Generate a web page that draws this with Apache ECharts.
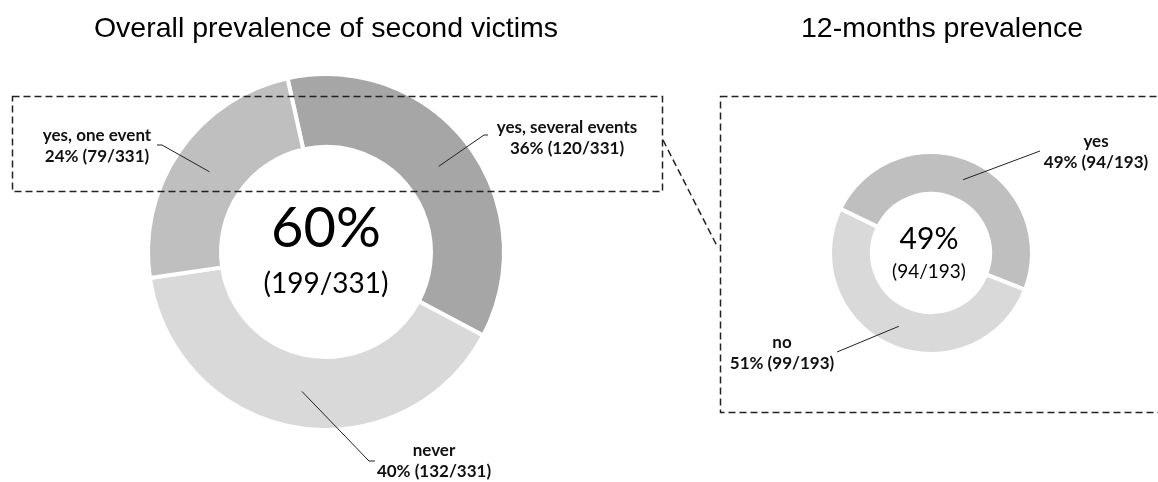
<!DOCTYPE html>
<html>
<head>
<meta charset="utf-8">
<script src="https://cdn.jsdelivr.net/npm/echarts@6/dist/echarts.min.js"></script>
<style>
  html, body { margin: 0; padding: 0; background: #fff; }
  #chart { width: 1158px; height: 482px; }
</style>
</head>
<body>
<div id="chart"></div>
<script>
// data
const overallNames = ["yes, several events", "never", "yes, one event"];
const overallCounts = [120, 132, 79];
const overallTotal = 331;
const overallCenterPct = "60%";
const overallCenterFrac = "(199/331)";

const yearNames = ["yes", "no"];
const yearCounts = [94, 99];
const yearTotal = 193;
const yearCenterPct = "49%";
const yearCenterFrac = "(94/193)";

const titles = ["Overall prevalence of second victims", "12-months prevalence"];

// layout (pixels)
const LEFT = { cx: 326, cy: 252, r0: 105, r1: 178, start: 102.5 };
const RIGHT = { cx: 931, cy: 253, r0: 59, r1: 101, start: 154 };
const LEFT_COLORS = ["#a6a6a6", "#d9d9d9", "#bfbfbf"];
const RIGHT_COLORS = ["#bfbfbf", "#d9d9d9"];

// leader line elbow / end and label centre for each slice
const LEFT_LABELS = [
  { elbow: [484, 135], end: [488, 135], text: [567, 138] },
  { elbow: [369, 461], end: [375, 461], text: [434, 461] },
  { elbow: [162, 145], end: [157, 145], text: [97, 146] },
];
const RIGHT_LABELS = [
  { elbow: [1040, 151], end: [1040, 151], text: [1096, 152] },
  { elbow: [837, 352], end: [837, 352], text: [782, 353] },
];

const chart = echarts.init(document.getElementById("chart"));

// point in the middle of the ring, at the middle angle of slice i
function midRingPoint(g, counts, i) {
  const total = counts.reduce((a, b) => a + b, 0);
  let cum = 0;
  for (let k = 0; k < i; k++) cum += counts[k];
  const a = (g.start - ((cum + counts[i] / 2) / total) * 360) * Math.PI / 180;
  const r = (g.r0 + g.r1) / 2;
  return [g.cx + r * Math.cos(a), g.cy - r * Math.sin(a)];
}

function pct(v, total) {
  return Math.round((v / total) * 100) + "%";
}

function makeLayout(g, counts, labels) {
  return (params) => {
    const l = labels[params.dataIndex];
    return {
      x: l.text[0],
      y: l.text[1],
      align: "center",
      verticalAlign: "middle",
      labelLinePoints: [midRingPoint(g, counts, params.dataIndex), l.elbow, l.end],
    };
  };
}

// the rings themselves
function ringSeries(g, names, counts, colors) {
  return {
    type: "pie",
    center: [g.cx, g.cy],
    radius: [g.r0, g.r1],
    startAngle: g.start,
    clockwise: true,
    silent: true,
    z: 2,
    itemStyle: { borderColor: "#fff", borderWidth: 4 },
    label: { show: false },
    labelLine: { show: false },
    data: names.map((n, i) => ({ name: n, value: counts[i], itemStyle: { color: colors[i] } })),
  };
}

// transparent copy on top, only for the labels and leader lines
function labelSeries(g, names, counts, total, labels) {
  return {
    type: "pie",
    center: [g.cx, g.cy],
    radius: [g.r0, g.r1],
    startAngle: g.start,
    clockwise: true,
    silent: true,
    z: 5,
    itemStyle: { color: "rgba(0,0,0,0)", borderWidth: 0 },
    label: {
      show: true,
      position: "outside",
      fontFamily: "Lato",
      fontWeight: "bold",
      fontSize: 17,
      lineHeight: 21,
      color: "#111",
      align: "center",
      formatter: (p) => `${p.name}\n${pct(p.value, total)} (${p.value}/${total})`,
    },
    labelLine: { show: true, smooth: false, lineStyle: { color: "#222", width: 1 } },
    labelLayout: makeLayout(g, counts, labels),
    data: names.map((n, i) => ({ name: n, value: counts[i] })),
  };
}

const dash = { stroke: "#222", fill: null, lineWidth: 1.5, lineDash: [7, 4] };
const titleFont = "28.5px 'Liberation Sans', Arial";

const option = {
  backgroundColor: "#fff",
  animation: false,
  graphic: [
    { type: "text", x: 326, y: 29, style: { text: titles[0], font: titleFont, fill: "#000", align: "center", verticalAlign: "middle" } },
    { type: "text", x: 942, y: 29, style: { text: titles[1], font: titleFont, fill: "#000", align: "center", verticalAlign: "middle" } },
    { type: "text", x: LEFT.cx, y: 229, style: { text: overallCenterPct, font: "56px Lato", fill: "#000", align: "center", verticalAlign: "middle" } },
    { type: "text", x: LEFT.cx, y: 284, style: { text: overallCenterFrac, font: "28px Lato", fill: "#000", align: "center", verticalAlign: "middle" } },
    { type: "text", x: 929, y: 239, style: { text: yearCenterPct, font: "30px Lato", fill: "#000", align: "center", verticalAlign: "middle" } },
    { type: "text", x: 929, y: 272, style: { text: yearCenterFrac, font: "19px Lato", fill: "#000", align: "center", verticalAlign: "middle" } },
    { type: "rect", shape: { x: 12.5, y: 96.5, width: 650, height: 95 }, style: dash, z: 10 },
    { type: "rect", shape: { x: 720.5, y: 96.5, width: 460, height: 316 }, style: dash, z: 10 },
    { type: "line", shape: { x1: 663, y1: 140, x2: 718, y2: 248 }, style: dash, z: 10 },
  ],
  series: [
    ringSeries(LEFT, overallNames, overallCounts, LEFT_COLORS),
    ringSeries(RIGHT, yearNames, yearCounts, RIGHT_COLORS),
    labelSeries(LEFT, overallNames, overallCounts, overallTotal, LEFT_LABELS),
    labelSeries(RIGHT, yearNames, yearCounts, yearTotal, RIGHT_LABELS),
  ],
};

chart.setOption(option);
</script>
</body>
</html>
